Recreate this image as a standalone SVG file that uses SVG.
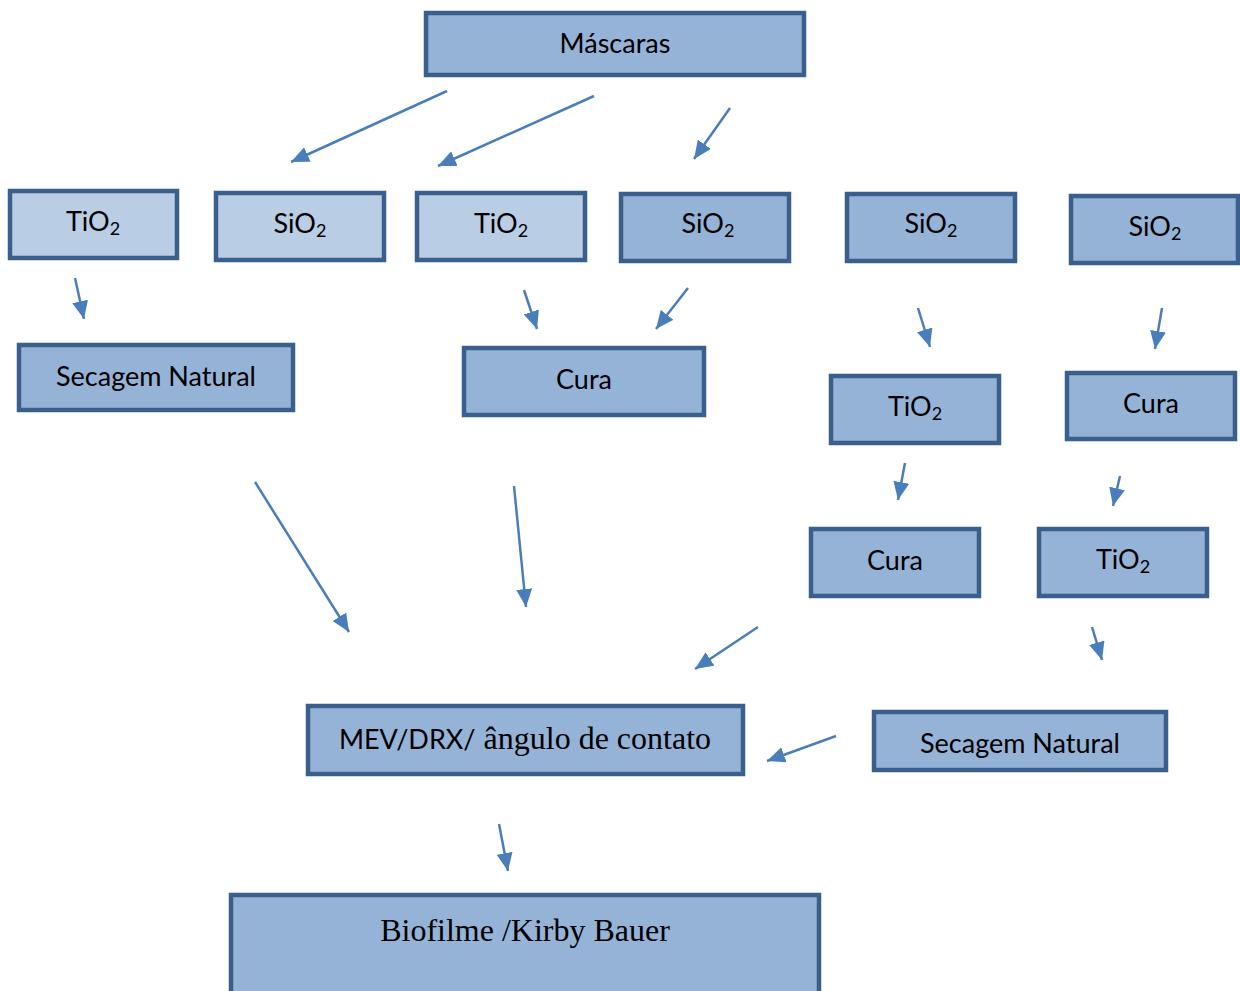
<svg xmlns="http://www.w3.org/2000/svg" width="1240" height="991" viewBox="0 0 1240 991">
<style>
.b{stroke:#3A5F8D;stroke-width:4.5}
.l{fill:#B9CDE5}
.d{fill:#95B3D7}
.t{font-family:Lato,"Open Sans",sans-serif;font-size:27px;fill:#000;text-anchor:middle}
.s{font-family:"Liberation Serif",serif;font-size:32px}
.c{stroke:#4A7EBB;stroke-width:2.5;fill:none;marker-end:url(#a)}
</style>
<defs>
<marker id="a" markerUnits="userSpaceOnUse" markerWidth="20" markerHeight="16" refX="18" refY="8" orient="auto">
<path d="M0,0 L18,8 L0,16 Z" fill="#4A7EBB"/>
</marker>
</defs>
<rect width="1240" height="991" fill="#fff"/>
<g id="n-mascaras"><rect class="b d" x="426" y="13" width="378" height="62"/><text class="t" x="615" y="53">Máscaras</text></g>
<g id="n-tio2-1"><rect class="b l" x="10" y="191" width="167" height="67"/><text class="t" x="93" y="231">TiO<tspan font-size="18" dy="4">2</tspan></text></g>
<g id="n-sio2-1"><rect class="b l" x="216" y="193" width="168" height="67"/><text class="t" x="300" y="233">SiO<tspan font-size="18" dy="4">2</tspan></text></g>
<g id="n-tio2-2"><rect class="b l" x="417" y="193" width="168" height="67"/><text class="t" x="501" y="233">TiO<tspan font-size="18" dy="4">2</tspan></text></g>
<g id="n-sio2-2"><rect class="b d" x="621" y="194" width="168" height="67"/><text class="t" x="708" y="233">SiO<tspan font-size="18" dy="4">2</tspan></text></g>
<g id="n-sio2-3"><rect class="b d" x="847" y="194" width="168" height="67"/><text class="t" x="931" y="233">SiO<tspan font-size="18" dy="4">2</tspan></text></g>
<g id="n-sio2-4"><rect class="b d" x="1071" y="196" width="167" height="67"/><text class="t" x="1155" y="236">SiO<tspan font-size="18" dy="4">2</tspan></text></g>
<g id="n-secagem-1"><rect class="b d" x="19" y="345" width="274" height="65"/><text class="t" x="156" y="386">Secagem Natural</text></g>
<g id="n-cura-1"><rect class="b d" x="464" y="348" width="240" height="67"/><text class="t" x="584" y="389">Cura</text></g>
<g id="n-tio2-3"><rect class="b d" x="831" y="376" width="168" height="67"/><text class="t" x="915" y="416">TiO<tspan font-size="18" dy="4">2</tspan></text></g>
<g id="n-cura-2"><rect class="b d" x="1067" y="373" width="168" height="66"/><text class="t" x="1151" y="413">Cura</text></g>
<g id="n-cura-3"><rect class="b d" x="811" y="529" width="168" height="67"/><text class="t" x="895" y="570">Cura</text></g>
<g id="n-tio2-4"><rect class="b d" x="1039" y="529" width="168" height="67"/><text class="t" x="1123" y="569">TiO<tspan font-size="18" dy="4">2</tspan></text></g>
<g id="n-mev"><rect class="b d" x="308" y="706" width="435" height="68"/><text class="t" x="525" y="749">MEV/DRX/<tspan class="s"> ângulo de contato</tspan></text></g>
<g id="n-secagem-2"><rect class="b d" x="874" y="712" width="292" height="58"/><text class="t" x="1020" y="753">Secagem Natural</text></g>
<g id="n-biofilme"><rect class="b d" x="231" y="895" width="588" height="110"/><text class="t s" x="525" y="941">Biofilme /Kirby Bauer</text></g>
<g id="connectors">
<line class="c" x1="447" y1="91" x2="291" y2="162"/>
<line class="c" x1="594" y1="96" x2="438" y2="166"/>
<line class="c" x1="730" y1="108" x2="694" y2="159"/>
<line class="c" x1="75" y1="278" x2="84" y2="319"/>
<line class="c" x1="524" y1="290" x2="537" y2="329"/>
<line class="c" x1="688" y1="288" x2="656" y2="329"/>
<line class="c" x1="918" y1="308" x2="930" y2="347"/>
<line class="c" x1="1162" y1="308" x2="1155" y2="349"/>
<line class="c" x1="905" y1="463" x2="898" y2="500"/>
<line class="c" x1="1120" y1="476" x2="1113" y2="506"/>
<line class="c" x1="255" y1="482" x2="349" y2="632"/>
<line class="c" x1="514" y1="486" x2="526" y2="607"/>
<line class="c" x1="758" y1="627" x2="695" y2="669"/>
<line class="c" x1="1092" y1="627" x2="1102" y2="660"/>
<line class="c" x1="836" y1="736" x2="767" y2="761"/>
<line class="c" x1="499" y1="824" x2="508" y2="871"/>
</g>
</svg>
